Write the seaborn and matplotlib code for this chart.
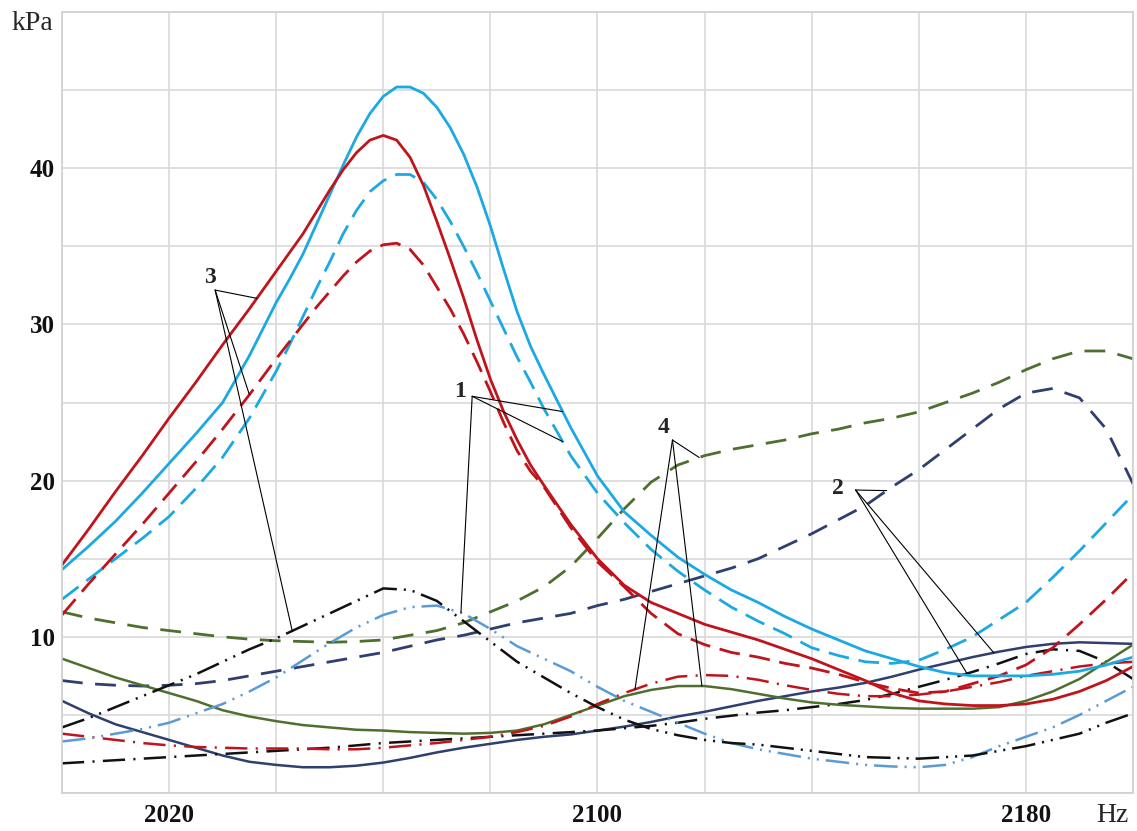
import numpy as np
import matplotlib
matplotlib.use("Agg")
import matplotlib.pyplot as plt
import seaborn as sns

# %% Data (kPa vs Hz)
freq = list(range(2000, 2201, 5))
# denser sampling around the resonance peak for the four upper curves
freq_fine = (list(range(2000, 2040, 5))
             + [2040 + 2.5 * i for i in range(21)]
             + list(range(2095, 2201, 5)))

cyan_solid = [14.3, 15.8, 17.4, 19.2, 21.1, 23.0, 25.0, 28.0,
              31.4, 32.9, 34.5, 36.4, 38.3, 40.2, 42.0, 43.5, 44.6, 45.2,
              45.2, 44.8, 43.9, 42.6, 40.9, 38.8, 36.3, 33.5, 30.8, 28.6, 26.8,
              23.4, 20.3, 18.0, 16.5, 15.1, 14.0, 13.0, 12.2, 11.3, 10.5, 9.8,
              9.1, 8.6, 8.1, 7.7, 7.5, 7.5, 7.5, 7.6, 7.8, 8.2, 8.7]
cyan_dashed = [12.4, 13.7, 15.0, 16.3, 17.7, 19.5, 21.5, 24.0,
               27.0, 28.7, 30.5, 32.3, 34.0, 35.8, 37.3, 38.5, 39.2, 39.6,
               39.6, 39.1, 38.0, 36.6, 35.0, 33.3, 31.5, 29.7, 27.9, 26.3, 24.6,
               21.6, 19.2, 17.3, 15.6, 14.2, 13.0, 11.9, 11.0, 10.2, 9.3, 8.8,
               8.4, 8.3, 8.5, 9.2, 10.0, 11.1, 12.2, 13.8, 15.5, 17.3, 19.1]
red_solid = [14.6, 16.9, 19.3, 21.6, 24.0, 26.3, 28.7, 31.0,
             33.4, 34.6, 35.8, 37.2, 38.6, 39.9, 41.0, 41.8, 42.1, 41.8,
             40.7, 38.9, 36.6, 34.2, 31.7, 29.0, 26.5, 24.4, 22.6, 21.0, 19.7,
             17.2, 15.0, 13.3, 12.2, 11.5, 10.8, 10.3, 9.8, 9.2, 8.6, 7.9,
             7.2, 6.4, 5.9, 5.7, 5.6, 5.6, 5.7, 6.0, 6.5, 7.2, 8.1]
red_dashed = [11.4, 13.4, 15.3, 17.2, 19.2, 21.2, 23.3, 25.5,
              27.8, 28.9, 30.0, 31.1, 32.1, 33.1, 34.0, 34.7, 35.1, 35.2,
              34.8, 33.8, 32.4, 31.0, 29.4, 27.6, 25.7, 23.7, 21.9, 20.6, 19.6,
              17.0, 14.8, 13.2, 11.5, 10.2, 9.5, 9.0, 8.7, 8.3, 8.0, 7.6,
              7.1, 6.7, 6.4, 6.5, 7.0, 7.5, 8.2, 9.3, 10.8, 12.4, 14.1]

lightblue_dd = [3.3, 3.5, 3.8, 4.1, 4.5, 5.1, 5.7, 6.5, 7.4, 8.5,
                9.6, 10.6, 11.4, 11.9, 12.0, 11.5, 10.5, 9.4, 8.6, 7.8,
                6.8, 5.9, 5.2, 4.5, 3.8, 3.2, 2.8, 2.5, 2.2, 2.0,
                1.8, 1.7, 1.65, 1.8, 2.3, 3.0, 3.6, 4.2, 5.0, 5.9, 6.8]
black_dd = [4.2, 4.8, 5.5, 6.2, 6.9, 7.6, 8.4, 9.2, 9.9, 10.7,
            11.5, 12.3, 13.1, 13.0, 12.3, 11.0, 9.7, 8.4, 7.4, 6.4,
            5.5, 4.7, 4.1, 3.7, 3.4, 3.2, 3.1, 2.9, 2.7, 2.5,
            2.3, 2.25, 2.2, 2.3, 2.4, 2.7, 3.0, 3.4, 3.8, 4.5, 5.1]

green_dashed = [11.6, 11.2, 10.9, 10.6, 10.4, 10.2, 10.0, 9.85, 9.75, 9.7,
                9.65, 9.7, 9.8, 10.1, 10.4, 10.9, 11.6, 12.3, 13.2, 14.5,
                16.3, 18.2, 19.9, 21.0, 21.6, 22.0, 22.3, 22.6, 23.0, 23.3,
                23.7, 24.0, 24.4, 25.0, 25.6, 26.3, 27.1, 27.8, 28.3, 28.3, 27.8]
green_solid = [8.6, 8.0, 7.4, 6.9, 6.4, 5.9, 5.3, 4.9, 4.6, 4.35,
               4.2, 4.05, 4.0, 3.9, 3.85, 3.8, 3.85, 4.0, 4.4, 5.0,
               5.6, 6.2, 6.6, 6.85, 6.85, 6.65, 6.35, 6.05, 5.8, 5.65,
               5.55, 5.45, 5.4, 5.4, 5.4, 5.5, 5.9, 6.5, 7.3, 8.4, 9.5]
red_dashdot = [3.8, 3.6, 3.4, 3.2, 3.05, 2.95, 2.9, 2.85, 2.85, 2.85,
               2.8, 2.8, 2.9, 3.05, 3.2, 3.4, 3.6, 3.9, 4.3, 4.9,
               5.7, 6.4, 7.0, 7.45, 7.55, 7.5, 7.25, 6.9, 6.6, 6.35,
               6.2, 6.2, 6.3, 6.5, 6.8, 7.1, 7.5, 7.8, 8.1, 8.3, 8.4]

navy_dashed = [7.2, 7.0, 6.9, 6.85, 6.9, 7.0, 7.2, 7.5, 7.8, 8.1,
               8.4, 8.7, 9.0, 9.4, 9.8, 10.1, 10.5, 10.9, 11.2, 11.5,
               12.0, 12.4, 12.9, 13.4, 13.9, 14.4, 15.0, 15.8, 16.6, 17.5,
               18.4, 19.6, 20.7, 22.0, 23.3, 24.6, 25.6, 25.9, 25.3, 23.3, 19.8]
navy_solid = [5.9, 5.1, 4.4, 3.9, 3.4, 2.9, 2.4, 2.0, 1.8, 1.65,
              1.65, 1.75, 1.95, 2.25, 2.6, 2.9, 3.15, 3.4, 3.6, 3.75,
              4.0, 4.25, 4.55, 4.9, 5.2, 5.55, 5.9, 6.2, 6.5, 6.75,
              7.05, 7.45, 7.9, 8.3, 8.7, 9.05, 9.35, 9.55, 9.65, 9.6, 9.55]
black_dashdot = [1.9, 2.0, 2.1, 2.2, 2.3, 2.4, 2.5, 2.6, 2.7, 2.8,
                 2.9, 3.05, 3.2, 3.3, 3.4, 3.5, 3.6, 3.7, 3.8, 3.9,
                 4.0, 4.15, 4.3, 4.5, 4.75, 4.95, 5.15, 5.3, 5.5, 5.7,
                 5.95, 6.35, 6.8, 7.25, 7.75, 8.3, 8.9, 9.2, 9.1, 8.4, 7.3]

x_grid = list(range(2000, 2201, 20))
x_labeled = [2020, 2100, 2180]
y_grid = list(range(0, 51, 5))
y_labeled = [10, 20, 30, 40]

# %% Styles
CYAN, RED, GREEN, NAVY = "#1CA9E1", "#C0141C", "#4F6F2F", "#2F3F6F"
LBLUE, BLACK = "#5B9BD5", "#111111"
DASH = (0, (15, 7))
DASH2 = (0, (15, 9))
DASH_DD = (0, (17, 5, 1.5, 5, 1.5, 5))
DASH_D = (0, (16, 6, 1.5, 6))

series = [
    (freq, navy_solid, NAVY, "-", 1.8),
    (freq, black_dashdot, BLACK, DASH_D, 1.8),
    (freq, navy_dashed, NAVY, DASH2, 2.0),
    (freq, green_solid, GREEN, "-", 1.8),
    (freq, red_dashdot, RED, DASH_D, 1.8),
    (freq, green_dashed, GREEN, DASH2, 2.0),
    (freq, lightblue_dd, LBLUE, DASH_DD, 1.8),
    (freq, black_dd, BLACK, DASH_DD, 1.8),
    (freq_fine, cyan_dashed, CYAN, DASH, 2.0),
    (freq_fine, red_dashed, RED, DASH, 2.0),
    (freq_fine, cyan_solid, CYAN, "-", 2.0),
    (freq_fine, red_solid, RED, "-", 2.0),
]

# group labels: text position, leader start, (x grid, curve, x on curve)
groups = [
    ("3", (2027.7, 33.0), (2028.6, 32.2),
     [(freq_fine, red_solid, 2036.4), (freq_fine, red_dashed, 2035.0),
      (freq, black_dd, 2043.0)]),
    ("1", (2074.4, 25.7), (2076.6, 25.4),
     [(freq_fine, cyan_solid, 2093.5), (freq_fine, cyan_dashed, 2093.5),
      (freq, lightblue_dd, 2074.5)]),
    ("4", (2112.3, 23.4), (2114.0, 22.6),
     [(freq, green_dashed, 2119.0), (freq, red_dashdot, 2107.0),
      (freq, green_solid, 2119.5)]),
    ("2", (2144.9, 19.5), (2148.2, 19.4),
     [(freq, navy_dashed, 2154.0), (freq, black_dashdot, 2169.0),
      (freq, navy_solid, 2174.0)]),
]

# %% Plot
sns.set_theme(style="whitegrid")
plt.rcParams["font.family"] = ["Liberation Serif", "DejaVu Serif"]
plt.rcParams["lines.scale_dashes"] = False

fig = plt.figure(figsize=(11.37, 8.31), dpi=100)
ax = fig.add_axes([0.0545, 0.0457, 0.942, 0.9398])

for xs, vals, color, ls, lw in series:
    sns.lineplot(x=xs, y=vals, ax=ax, color=color, linestyle=ls, linewidth=lw)

for label, txt_pos, start, targets in groups:
    ax.text(*txt_pos, label, fontsize=17, fontweight="bold",
            ha="center", va="center", zorder=5)
    for xs, curve, tx in targets:
        ty = np.interp(tx, xs, curve)
        ax.annotate("", xy=(tx, ty), xytext=start,
                    arrowprops=dict(arrowstyle="-", color="black", lw=0.8,
                                    shrinkA=0, shrinkB=0), zorder=5)

ax.set_xlim(2000, 2200)
ax.set_ylim(0, 50)
ax.set_xticks(x_grid)
ax.set_xticklabels([str(t) if t in x_labeled else "" for t in x_grid],
                   fontsize=18, fontweight="bold")
ax.set_yticks(y_grid)
ax.set_yticklabels([str(t) if t in y_labeled else "" for t in y_grid],
                   fontsize=18, fontweight="bold")
ax.tick_params(axis="x", length=0, pad=8, colors="#111111")
ax.tick_params(axis="y", length=0, pad=5, colors="#111111")
ax.grid(True, color="#D9D9D9", linewidth=1.2)
for sp in ax.spines.values():
    sp.set_color("#D0D0D0")
    sp.set_linewidth(1.2)
ax.set_xlabel("")
ax.set_ylabel("")

fig.text(32 / 1137, 1 - 24 / 831, "kPa", fontsize=20, ha="center", va="center")
fig.text(1112 / 1137, 1 - 815 / 831, "Hz", fontsize=20, ha="center", va="center")

fig.savefig("out.png", dpi=100)
